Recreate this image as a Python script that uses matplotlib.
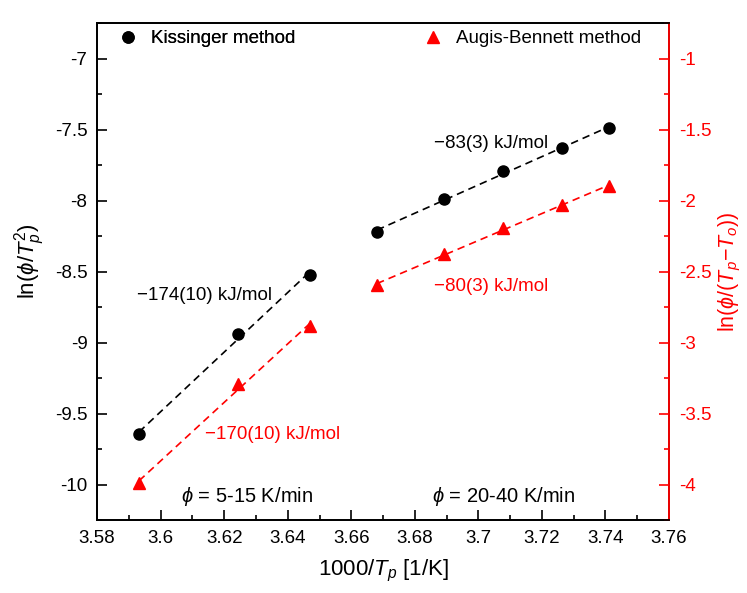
import numpy as np
import matplotlib
matplotlib.use("Agg")
import matplotlib.pyplot as plt
from matplotlib.ticker import MultipleLocator, FuncFormatter

plt.rcParams['font.family'] = ['Liberation Sans', 'DejaVu Sans']
plt.rcParams['mathtext.fontset'] = 'custom'
plt.rcParams['mathtext.rm'] = 'Liberation Sans'
plt.rcParams['mathtext.it'] = 'Liberation Sans:italic'
plt.rcParams['axes.unicode_minus'] = False

# 1000/Tp for the two heating-rate groups
x_low = [3.5932, 3.6243, 3.6471]
x_high = [3.6681, 3.6892, 3.7077, 3.7263, 3.7410]

# Kissinger: ln(phi/Tp^2)
kis_low = [-9.647, -8.937, -8.522]
kis_high = [-8.223, -7.988, -7.794, -7.632, -7.492]

# Augis-Bennett: ln(phi/(Tp-To))
ab_low = [-3.99, -3.295, -2.885]
ab_high = [-2.597, -2.375, -2.195, -2.035, -1.90]

red = '#ff0000'

fig = plt.figure(figsize=(7.47, 5.93), dpi=100)
ax = fig.add_axes([0.130, 0.1231, 0.7656, 0.8381])
ax2 = ax.twinx()


def fit_line(axis, x, y, color):
    k, b = np.polyfit(x, y, 1)
    xs = np.array([min(x), max(x)])
    axis.plot(xs, k * xs + b, ls=(0, (4.5, 3)), lw=1.2, color=color, zorder=1)


fit_line(ax, x_low, kis_low, 'black')
fit_line(ax, x_high, kis_high, 'black')
fit_line(ax2, x_low, ab_low, red)
fit_line(ax2, x_high, ab_high, red)

h1, = ax.plot(x_low + x_high, kis_low + kis_high, 'o', color='black', ms=8,
              ls='none', zorder=3, label='Kissinger method')
h2, = ax2.plot(x_low + x_high, ab_low + ab_high, '^', color=red, ms=9,
               ls='none', zorder=3, label='Augis-Bennett method')

ax.set_xlim(3.58, 3.76)
ax.set_ylim(-10.25, -6.75)
ax2.set_ylim(-4.25, -0.75)

fmt = FuncFormatter(lambda v, p: '%g' % round(v, 4))
ax.xaxis.set_major_locator(MultipleLocator(0.02))
ax.xaxis.set_minor_locator(MultipleLocator(0.01))
ax.yaxis.set_major_locator(MultipleLocator(0.5))
ax.yaxis.set_minor_locator(MultipleLocator(0.25))
ax2.yaxis.set_major_locator(MultipleLocator(0.5))
ax2.yaxis.set_minor_locator(MultipleLocator(0.25))
ax.xaxis.set_major_formatter(fmt)
ax.yaxis.set_major_formatter(fmt)
ax2.yaxis.set_major_formatter(fmt)

ax.tick_params(which='both', direction='in', labelsize=13.5, width=1.2,
               top=False, right=False)
ax.tick_params(which='major', length=7, pad=7)
ax.tick_params(which='minor', length=3.5)
ax2.tick_params(which='both', direction='in', labelsize=13.5, width=1.2,
                colors=red)
ax2.tick_params(which='major', length=7, pad=7)
ax2.tick_params(which='minor', length=3.5)

for s in ax.spines.values():
    s.set_linewidth(1.3)
for s in ax2.spines.values():
    s.set_linewidth(1.3)
ax2.spines['right'].set_color(red)

ax.set_xlabel(r'1000/$T_p$ [1/K]', fontsize=16, labelpad=8)
ax.set_ylabel(r'ln($\phi$/$T_p^2$)', fontsize=16)
ax.yaxis.set_label_coords(-0.087, 0.52)
ax2.set_ylabel(r'ln($\phi$/($T_p$$-$$T_o$))', fontsize=15.5, color=red,
               labelpad=4)

ax.text(3.5926, -8.70, '\u2212174(10) kJ/mol', fontsize=13.5)
ax.text(3.6139, -9.68, '\u2212170(10) kJ/mol', fontsize=13.5, color=red)
ax.text(3.6861, -7.63, '\u221283(3) kJ/mol', fontsize=13.5)
ax.text(3.6861, -8.64, '\u221280(3) kJ/mol', fontsize=13.5, color=red)
ax.text(3.6065, -10.12, r'$\phi$ = 5-15 K/min', fontsize=14.5)
ax.text(3.6855, -10.12, r'$\phi$ = 20-40 K/min', fontsize=14.5)

leg1 = ax.legend(handles=[h1], loc='upper left', bbox_to_anchor=(0.005, 1.02),
                 frameon=False, fontsize=13.5, handletextpad=0.6,
                 handlelength=1.2)
ax.add_artist(leg1)
ax2.legend(handles=[h2], loc='upper right', bbox_to_anchor=(0.98, 1.02),
           frameon=False, fontsize=13.5, handletextpad=0.6, handlelength=1.2)

fig.savefig('out.png', dpi=100)
